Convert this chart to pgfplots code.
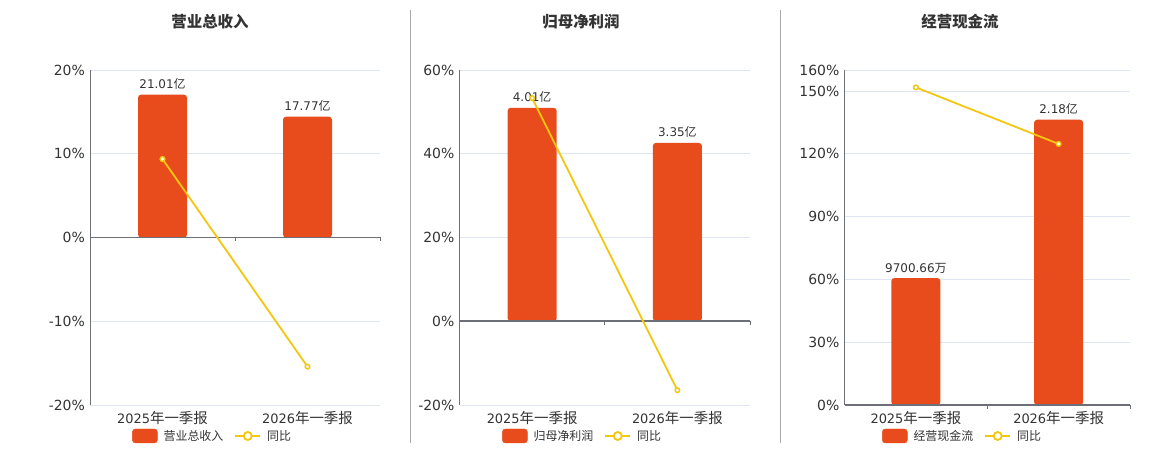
\documentclass[border=0pt]{standalone}
\usepackage{pgfplots}
\pgfplotsset{compat=1.18}
\usepackage{fontspec}
\setmainfont{DejaVu Sans}
\newfontfamily\cjk{Noto Sans CJK SC}
\newcommand\C[1]{{\cjk #1}}
\newcommand\xl{\fontsize{14.5}{16}\selectfont}
\definecolor{barc}{HTML}{E84B1C}
\definecolor{linec}{HTML}{F2C70F}
\definecolor{axc}{HTML}{6E7079}
\definecolor{gridc}{HTML}{E0E6F1}
\definecolor{txt}{HTML}{333333}
\definecolor{sepc}{HTML}{AAAAAA}
\pgfplotsset{
  P/.style={scale only axis, height=335bp, xmin=-0.5, xmax=1.5, anchor=south west},
  F/.style={P, axis x line*=bottom, axis y line*=left,
    x axis line style={draw=none}, y axis line style={draw=axc, line width=0.8bp, -},
    xtick={0,1}, major tick length=0pt,
    xticklabels={2025\C{\xl 年一季报},2026\C{\xl 年一季报}},
    ymajorgrids, grid style={draw=gridc, line width=0.8bp},
    yticklabel style={font=\fontsize{14}{16}\selectfont, text=txt, anchor=east, inner sep=0pt, xshift=-5bp},
    xticklabel style={font=\fontsize{13}{16}\selectfont, text=txt, anchor=north, inner sep=0pt, yshift=-6bp},
    legend columns=2,
    legend style={draw=none, fill=none, inner sep=0pt, font=\fontsize{12}{14}\selectfont\cjk, text=txt, anchor=west,
      nodes={inner sep=0pt},
      /tikz/every odd column/.append style={column sep=6bp},
      /tikz/every even column/.append style={column sep=11bp}}},
  B/.style={P, axis lines=none, ticks=none},
  L/.style={P, axis lines=none, ticks=none, clip=false},
  barplot/.style={ybar, bar width=49bp, fill=barc, draw=none, rounded corners=3bp,
    nodes near coords, point meta=explicit symbolic,
    every node near coord/.append style={font=\fontsize{12}{14}\selectfont, text=txt, anchor=base, inner sep=0pt, yshift=6bp}},
  lineplot/.style={linec, line width=1.8bp, mark=*, mark size=2.3bp,
    mark options={fill=white, draw=linec, line width=1.5bp}},
  barleg/.style={legend image code/.code={\fill[barc, rounded corners=3bp] (0bp,-7bp) rectangle (25bp,7bp);}},
  lineleg/.style={legend image code/.code={\draw[linec, line width=1.8bp] (0bp,0bp) -- (25bp,0bp);
      \draw[linec, fill=white, line width=1.8bp] (12.5bp,0bp) circle (4bp);}}
}
\newcommand\zeroline{%
  \draw[axc, line width=1.8bp] (axis cs:-0.5,0) -- (axis cs:1.5,0);
  \draw[axc, line width=1bp] (axis cs:0.5,0) -- ++(0bp,-4bp);
  \draw[axc, line width=1bp] (axis cs:1.5,0) -- ++(0bp,-4bp);}
\begin{document}
\begin{tikzpicture}
\path[use as bounding box] (0bp,0bp) rectangle (1160bp,450bp);
% separators
\draw[sepc, line width=1bp] (410.5bp,7bp) -- (410.5bp,440bp);
\draw[sepc, line width=1bp] (780.5bp,7bp) -- (780.5bp,440bp);
% titles
\node[font=\cjk\bfseries\fontsize{15.5}{18}\selectfont, text=txt] at (210bp,428bp) {营业总收入};
\node[font=\cjk\bfseries\fontsize{15.5}{18}\selectfont, text=txt] at (581bp,428bp) {归母净利润};
\node[font=\cjk\bfseries\fontsize{15.5}{18}\selectfont, text=txt] at (960bp,428bp) {经营现金流};

% ---------- Panel 1 ----------
\begin{axis}[F, at={(90bp,45bp)}, width=290bp, ymin=-20, ymax=20,
  ytick={-20,-10,0,10,20}, yticklabels={-20\%,-10\%,0\%,10\%,20\%},
  legend style={at={(axis description cs:0.1448,-0.0925)}}]
\addlegendimage{barleg}\addlegendentry{营业总收入}
\addlegendimage{lineleg}\addlegendentry{同比}
\end{axis}
\begin{axis}[B, at={(90bp,45bp)}, width=290bp, ymin=-24.65, ymax=24.65]
\addplot[barplot] coordinates {(0,21.01) [21.01\C{亿}] (1,17.77) [17.77\C{亿}]};
\end{axis}
\begin{axis}[L, at={(90bp,45bp)}, width=290bp, ymin=-20, ymax=20]
\zeroline
\addplot[lineplot] coordinates {(0,9.37) (1,-15.42)};
\end{axis}

% ---------- Panel 2 ----------
\begin{axis}[F, at={(459.5bp,45bp)}, width=290.5bp, ymin=-20, ymax=60,
  ytick={-20,0,20,40,60}, yticklabels={-20\%,0\%,20\%,40\%,60\%},
  legend style={at={(axis description cs:0.1463,-0.0925)}}]
\addlegendimage{barleg}\addlegendentry{归母净利润}
\addlegendimage{lineleg}\addlegendentry{同比}
\end{axis}
\begin{axis}[B, at={(459.5bp,45bp)}, width=290.5bp, ymin=-1.5733, ymax=4.72]
\addplot[barplot] coordinates {(0,4.01) [4.01\C{亿}] (1,3.35) [3.35\C{亿}]};
\end{axis}
\begin{axis}[L, at={(459.5bp,45bp)}, width=290.5bp, ymin=-20, ymax=60]
\zeroline
\addplot[lineplot] coordinates {(0,53.3) (1,-16.46)};
\end{axis}

% ---------- Panel 3 ----------
\begin{axis}[F, at={(844.5bp,45bp)}, width=285.5bp, ymin=0, ymax=160,
  ytick={0,30,60,90,120,150,160}, yticklabels={0\%,30\%,60\%,90\%,120\%,150\%,160\%},
  legend style={at={(axis description cs:0.131,-0.0925)}}]
\addlegendimage{barleg}\addlegendentry{经营现金流}
\addlegendimage{lineleg}\addlegendentry{同比}
\end{axis}
\begin{axis}[B, at={(844.5bp,45bp)}, width=285.5bp, ymin=0, ymax=2.56]
\addplot[barplot] coordinates {(0,0.970066) [9700.66\C{万}] (1,2.18) [2.18\C{亿}]};
\end{axis}
\begin{axis}[L, at={(844.5bp,45bp)}, width=285.5bp, ymin=0, ymax=160]
\zeroline
\addplot[lineplot] coordinates {(0,151.7) (1,124.7)};
\end{axis}
\end{tikzpicture}
\end{document}
